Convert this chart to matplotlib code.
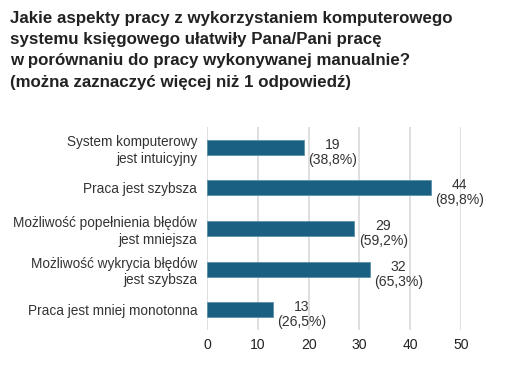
import matplotlib
matplotlib.use("Agg")
import matplotlib.pyplot as plt

categories = ["System komputerowy\njest intuicyjny", "Praca jest szybsza",
              "Możliwość popełnienia błędów\njest mniejsza",
              "Możliwość wykrycia błędów\njest szybsza", "Praca jest mniej monotonna"]
values = [19, 44, 29, 32, 13]
percents = ["38,8%", "89,8%", "59,2%", "65,3%", "26,5%"]
xticks = [0, 10, 20, 30, 40, 50]

plt.rcParams['font.family'] = ['Liberation Sans', 'DejaVu Sans']

W, H = 514, 382
fig = plt.figure(figsize=(W/100, H/100), dpi=100)
ax = fig.add_axes([207/W, 1-330/H, (461-207)/W, (330-127)/H])

ypos = list(range(len(categories)))
ax.barh(ypos, values, height=0.37, color='#1a6082', edgecolor='#5a8fa8', linewidth=0.6, zorder=3)
ax.set_ylim(len(categories)-0.5, -0.5)
ax.set_xlim(0, 50)
ax.set_xticks(xticks)
ax.set_xticklabels([str(t) for t in xticks])
ax.set_yticks(ypos)
ax.set_yticklabels(categories, fontsize=9.8, color='#333333', linespacing=1.25)
ax.tick_params(axis='y', length=0, pad=7)
ax.tick_params(axis='x', length=0, pad=6, labelsize=10.1, labelcolor='#222222')
ax.grid(axis='x', color='#dcdcdc', linewidth=1.3, zorder=0)
for s in ax.spines.values():
    s.set_visible(False)

for y, v, p in zip(ypos, values, percents):
    ax.annotate(f"{v}\n({p})", xy=(v, y), xytext=(29, -5), textcoords='offset pixels',
                ha='center', va='center', fontsize=10.1, color='#333333', linespacing=1.1)

fig.text(10/W, 1-11/H, "Jakie aspekty pracy z wykorzystaniem komputerowego\n"
         "systemu księgowego ułatwiły Pana/Pani pracę\n"
         "w porównaniu do pracy wykonywanej manualnie?\n"
         "(można zaznaczyć więcej niż 1 odpowiedź)",
         ha='left', va='top', fontsize=12.2, fontweight='bold', color='#222222', linespacing=1.52)

fig.savefig("out.png", dpi=100, facecolor='white')
